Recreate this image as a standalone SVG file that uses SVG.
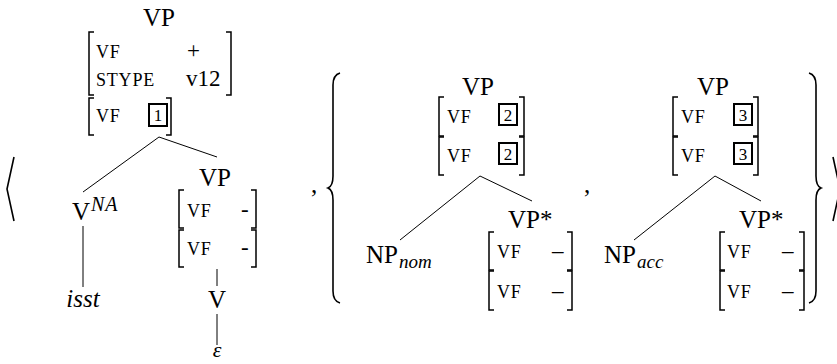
<svg xmlns="http://www.w3.org/2000/svg" width="837" height="364" viewBox="0 0 837 364">
<style>
text{font-family:"Liberation Serif",serif;fill:#000}
.cat{font-size:25px}
.sc{font-family:"Liberation Serif",serif;font-size:18px;letter-spacing:0.8px}
.val{font-size:23px}
.it{font-family:"Liberation Serif",serif;font-style:italic}
.sub{font-family:"Liberation Serif",serif;font-size:19px;font-style:italic}
.num{font-size:17px;text-anchor:middle}
.mid{text-anchor:middle}
.br{fill:none;stroke:#000;stroke-width:1.5}
.box{fill:none;stroke:#000;stroke-width:2}
.edge{fill:none;stroke:#000;stroke-width:1}
.delim{fill:none;stroke:#000;stroke-width:1.6;stroke-linejoin:miter}
</style>
<rect width="837" height="364" fill="#fff"/>

<g id="delimiters">
  <polyline class="delim" points="14,157 7,189 14,221"/>
  <polyline class="delim" points="833,157 840,189 833,221"/>
  <path class="delim" d="M340,73 Q333,75 333,85 L333,176 Q333,186 328,188 Q333,190 333,200 L333,291 Q333,301 340,303"/>
  <path class="delim" d="M809,73 Q816,75 816,85 L816,176 Q816,186 821,188 Q816,190 816,200 L816,291 Q816,301 809,303"/>
  <text class="cat" x="311" y="193">,</text>
  <text class="cat" x="584" y="193">,</text>
</g>

<g id="connectors">
  <line class="edge" x1="159" y1="137" x2="83" y2="192"/>
  <line class="edge" x1="159" y1="137" x2="217" y2="157"/>
  <line class="edge" x1="83" y1="226" x2="83" y2="287"/>
  <line class="edge" x1="217" y1="269" x2="217" y2="286"/>
  <line class="edge" x1="217" y1="314" x2="217" y2="345"/>
  <line class="edge" x1="480" y1="176" x2="400" y2="240"/>
  <line class="edge" x1="480" y1="176" x2="532" y2="201"/>
  <line class="edge" x1="715" y1="176" x2="634" y2="240"/>
  <line class="edge" x1="715" y1="176" x2="761" y2="201"/>
</g>

<g id="t1-root">
  <text class="cat mid" x="159" y="26">VP</text>
  <path class="br" d="M94,32 H89 V95 H94"/>
  <path class="br" d="M226,32 H231 V95 H226"/>
  <text class="sc" x="96" y="58">VF</text>
  <text class="val" x="187" y="58">+</text>
  <text class="sc" x="96" y="86">STYPE</text>
  <text class="val" x="186" y="86">v12</text>
  <path class="br" d="M94,98 H89 V135 H94"/>
  <path class="br" d="M166,98 H171 V135 H166"/>
  <text class="sc" x="96" y="122">VF</text>
  <rect class="box" x="149" y="104" width="18" height="22"/>
  <text class="num" x="158" y="121">1</text>
</g>

<g id="t1-vna">
  <text class="cat" x="72" y="220">V</text>
  <text class="it" x="91" y="211" style="font-size:20px;letter-spacing:1px">NA</text>
</g>

<g id="t1-isst">
  <text class="cat it mid" x="83" y="307">isst</text>
</g>

<g id="t1-vp">
  <text class="cat mid" x="215" y="186">VP</text>
  <path class="br" d="M184,190 H179 V228 H184"/>
  <path class="br" d="M251,190 H256 V228 H251"/>
  <path class="br" d="M184,230 H179 V267 H184"/>
  <path class="br" d="M251,230 H256 V267 H251"/>
  <text class="sc" x="187" y="217">VF</text>
  <text class="val" x="241" y="217">-</text>
  <text class="sc" x="187" y="255">VF</text>
  <text class="val" x="241" y="255">-</text>
</g>

<g id="t1-v">
  <text class="cat mid" x="217" y="308">V</text>
</g>

<g id="t1-eps">
  <text class="it mid" x="217" y="357" style="font-size:22px">ε</text>
</g>

<g id="t2-root">
  <text class="cat mid" x="478" y="95">VP</text>
  <path class="br" d="M444,97 H439 V136 H444"/>
  <path class="br" d="M519,97 H524 V136 H519"/>
  <path class="br" d="M444,137 H439 V175 H444"/>
  <path class="br" d="M519,137 H524 V175 H519"/>
  <text class="sc" x="447" y="123">VF</text>
  <text class="sc" x="447" y="162">VF</text>
  <rect class="box" x="499" y="104" width="18" height="21"/>
  <text class="num" x="508" y="121">2</text>
  <rect class="box" x="499" y="143" width="18" height="21"/>
  <text class="num" x="508" y="160">2</text>
</g>

<g id="t2-np">
  <text class="cat" x="366" y="263">NP</text>
  <text class="sub" x="399" y="268">nom</text>
</g>

<g id="t2-vpstar">
  <text class="cat" x="508" y="228">VP*</text>
  <path class="br" d="M494,232 H489 V270 H494"/>
  <path class="br" d="M567,232 H572 V270 H567"/>
  <path class="br" d="M494,271 H489 V310 H494"/>
  <path class="br" d="M567,271 H572 V310 H567"/>
  <text class="sc" x="497" y="258">VF</text>
  <text class="val" x="552" y="258">–</text>
  <text class="sc" x="497" y="298">VF</text>
  <text class="val" x="552" y="298">–</text>
</g>

<g id="t3-root">
  <text class="cat mid" x="713" y="95">VP</text>
  <path class="br" d="M678,97 H673 V136 H678"/>
  <path class="br" d="M753,97 H758 V136 H753"/>
  <path class="br" d="M678,137 H673 V175 H678"/>
  <path class="br" d="M753,137 H758 V175 H753"/>
  <text class="sc" x="681" y="123">VF</text>
  <text class="sc" x="681" y="162">VF</text>
  <rect class="box" x="734" y="104" width="18" height="21"/>
  <text class="num" x="743" y="121">3</text>
  <rect class="box" x="734" y="143" width="18" height="21"/>
  <text class="num" x="743" y="160">3</text>
</g>

<g id="t3-np">
  <text class="cat" x="604" y="263">NP</text>
  <text class="sub" x="637" y="268">acc</text>
</g>

<g id="t3-vpstar">
  <text class="cat" x="739" y="228">VP*</text>
  <path class="br" d="M725,232 H720 V270 H725"/>
  <path class="br" d="M799,232 H804 V270 H799"/>
  <path class="br" d="M725,271 H720 V310 H725"/>
  <path class="br" d="M799,271 H804 V310 H799"/>
  <text class="sc" x="727" y="258">VF</text>
  <text class="val" x="782" y="258">–</text>
  <text class="sc" x="727" y="298">VF</text>
  <text class="val" x="782" y="298">–</text>
</g>
</svg>
